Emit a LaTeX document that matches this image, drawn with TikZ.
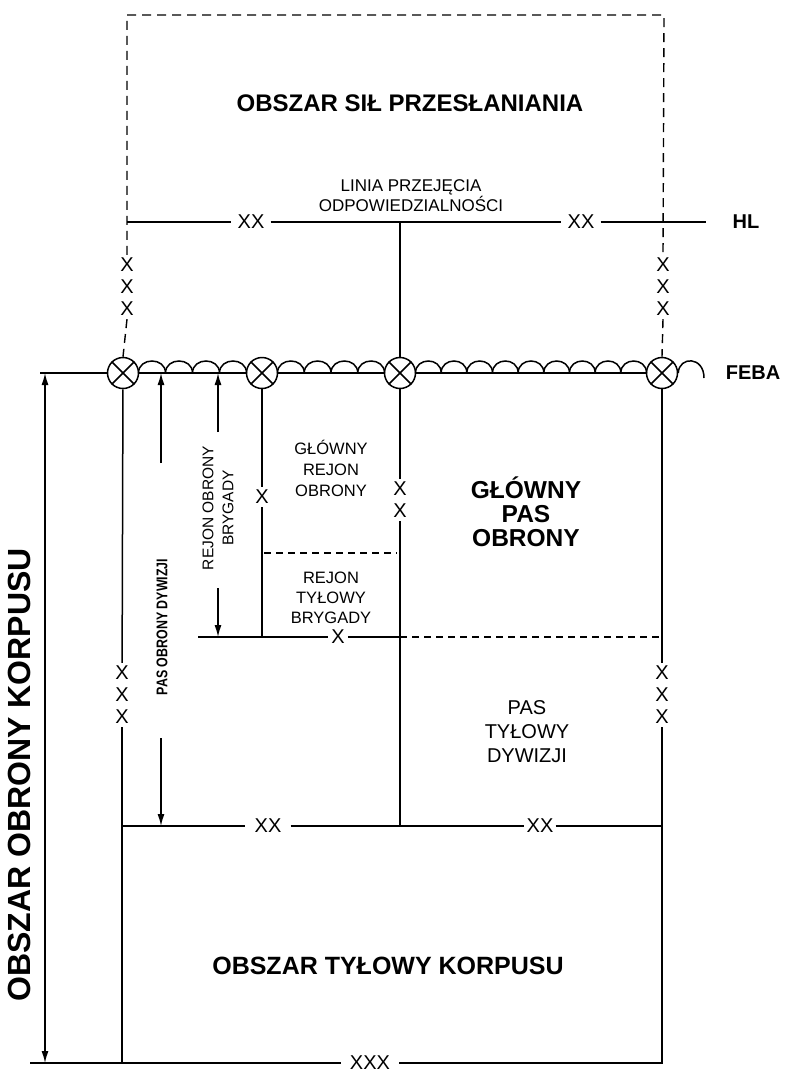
\documentclass[tikz,border=0pt]{standalone}
\usepackage{fontspec}
\usepackage{graphicx}
\setmainfont{Liberation Sans}
\usetikzlibrary{arrows.meta}
\begin{document}
\begin{tikzpicture}[x=1pt,y=-1pt,
  thinln/.style={line width=1.5pt},
  thickln/.style={line width=2.8pt},
  dashln/.style={line width=1.4pt, dash pattern=on 9pt off 6pt},
  dashsm/.style={line width=1.5pt, dash pattern=on 7pt off 5pt},
  cx/.style={circle, draw, line width=1.5pt, minimum size=31pt, inner sep=0pt, fill=white},
  xlab/.style={font=\fontsize{20}{22}\selectfont, align=center, inner xsep=5pt, inner ysep=3pt},
  dimarr/.style={line width=1.4pt, -{Latex[length=12pt,width=7pt]}},
  bigtitle/.style={font=\fontsize{24}{26}\selectfont\bfseries},
  smalltxt/.style={font=\fontsize{16.5}{21}\selectfont, align=center},
]
\useasboundingbox (0,0) rectangle (787,1074);

% ---------- texts ----------
\node[bigtitle] (t1) at (410,103) {OBSZAR SIŁ PRZESŁANIANIA};
\node[font=\fontsize{17}{20}\selectfont, align=center] (linia) at (411,196) {LINIA PRZEJĘCIA\\ODPOWIEDZIALNOŚCI};
\node[bigtitle, font=\fontsize{25}{26}\selectfont\bfseries] (t2) at (388,966) {OBSZAR TYŁOWY KORPUSU};
\node[smalltxt] (grob) at (331,468) {GŁÓWNY\\REJON\\OBRONY};
\node[smalltxt, font=\fontsize{16.5}{20}\selectfont] (rtb) at (331,598) {REJON\\TYŁOWY\\BRYGADY};
\node[font=\fontsize{24.5}{24}\selectfont\bfseries, align=center] (gpo) at (526,512) {GŁÓWNY\\PAS\\OBRONY};
\node[font=\fontsize{20}{24}\selectfont, align=center] (ptd) at (527,732) {PAS\\TYŁOWY\\DYWIZJI};
\node[font=\fontsize{20}{22}\selectfont\bfseries] (feba) at (753,373) {FEBA};
\node[font=\fontsize{20}{22}\selectfont\bfseries] (hl) at (746,222) {HL};
\node[font=\fontsize{32}{34}\selectfont\bfseries, rotate=90] (ook) at (19,775) {OBSZAR OBRONY KORPUSU};
\node[font=\fontsize{15.5}{17}\selectfont\bfseries, rotate=90] (pod) at (162,627) {\scalebox{0.8}[1]{PAS OBRONY DYWIZJI}};
\node[font=\fontsize{15.5}{20}\selectfont, align=center, rotate=90] (rob) at (218,508) {REJON OBRONY\\BRYGADY};

% ---------- FEBA circles ----------
\node[cx] (c1) at (123,373) {};
\node[cx] (c2) at (262,373) {};
\node[cx] (c3) at (400,373) {};
\node[cx] (c4) at (662,373) {};
\foreach \c in {c1,c2,c3,c4} {
  \draw[line width=1.5pt] (\c.north west) -- (\c.south east);
  \draw[line width=1.5pt] (\c.north east) -- (\c.south west);
}
% base lines
\coordinate (fl) at (40,373);
\draw[thinln] (fl) -- (c1);
\draw[thinln] (c1) -- (c2);
\draw[thickln] (c2) -- (c3);
\draw[thickln] (c3) -- (c4);
% scallops
\foreach \a/\b/\n in {138.5/246.5/4, 277.5/384.5/4, 415.5/646.5/9} {
  \pgfmathsetmacro\w{(\b-\a)/\n}
  \foreach \k in {1,...,\n} {
    \pgfmathsetmacro\s{\a+(\k-1)*\w}
    \pgfmathsetmacro\e{\s+\w}
    \draw[line width=1.5pt] (\s,373) .. controls (\s,357) and (\e,357) .. (\e,373);
  }
}
\coordinate (tail) at (704,378);
\draw[line width=1.5pt] (c4.east) .. controls (679,356) and (704,356) .. (tail);

% ---------- HL line and covering force area ----------
\coordinate (hlL) at (127,222);
\coordinate (hlR) at (706,222);
\coordinate (hlm) at (400,222);
\node[xlab, inner xsep=6pt] (hx1) at (251,222) {XX};
\node[xlab, inner xsep=6pt] (hx2) at (581,222) {XX};
\draw[thinln] (hlL) -- (hx1);
\draw[thinln] (hx1) -- (hx2);
\draw[thinln] (hx2) -- (hlR);
\draw[thinln] (hlm) -- (c3);

\coordinate (tl) at (127,15);
\coordinate (tr) at (664,15);
\node[xlab] (txl) at (127,287) {X\\X\\X};
\node[xlab] (txr) at (663,287) {X\\X\\X};
\draw[dashln] (txl.north) -- (tl) -- (tr) -- (txr.north);
\draw[dashln] (txl.south) -- (c1.north);
\draw[dashln] (txr.south) -- (c4.north);

% ---------- corps / division boundaries ----------
\node[xlab] (lx) at (122,695) {X\\X\\X};
\node[xlab] (rx) at (662,695) {X\\X\\X};
\node[xlab] (m1) at (262,497) {X};
\node[xlab] (m2) at (400,500) {X\\X};
\coordinate (bl) at (122,1063);
\coordinate (bfar) at (30,1063);
\coordinate (br) at (662,1063);
\node[xlab, inner xsep=9pt] (bxxx) at (370,1063) {XXX};
\coordinate (l826) at (122,826);
\coordinate (m826) at (400,826);
\coordinate (r826) at (662,826);
\node[xlab, inner xsep=9pt] (x826a) at (268,826) {XX};
\node[xlab, inner xsep=2pt] (x826b) at (540,826) {XX};

\draw[thinln] (c1) -- (lx);
\draw[thinln] (lx) -- (bl);
\draw[thinln] (bfar) -- (bxxx);
\draw[thinln] (bxxx) -- (br) -- (r826);
\draw[thinln] (l826) -- (x826a);
\draw[thinln] (x826a) -- (m826);

\draw[thickln] (c3) -- (m2);
\draw[thickln] (m2) -- (m826) -- (x826b);
\draw[thickln] (x826b) -- (r826);
\draw[thickln] (c4) -- (rx);
\draw[thickln] (rx) -- (r826);

% brigade area
\coordinate (b637) at (262,637);
\coordinate (e637) at (198,637);
\coordinate (m637) at (400,637);
\coordinate (r637) at (660,637);
\node[xlab, inner xsep=3pt, inner ysep=1pt] (x637) at (338,637) {X};
\draw[thickln] (c2) -- (m1);
\draw[thickln] (m1) -- (b637) -- (x637);
\draw[thinln] (e637) -- (b637);
\draw[thinln] (x637) -- (m637);
\draw[dashsm] (m637) -- (r637);
\coordinate (d553a) at (264,553);
\coordinate (d553b) at (397,553);
\draw[dashsm] (d553a) -- (d553b);

% ---------- dimension arrows ----------
\coordinate (k1) at (45,373);
\coordinate (k2) at (45,1063);
\draw[line width=1.4pt, {Latex[length=12pt,width=7pt]}-{Latex[length=12pt,width=7pt]}] (k1) -- (k2);

\coordinate (p1) at (161,373);
\coordinate (p2) at (161,463);
\coordinate (p3) at (161,738);
\coordinate (p4) at (161,826);
\draw[dimarr] (p2) -- (p1);
\draw[dimarr] (p3) -- (p4);

\coordinate (r1) at (218,373);
\coordinate (r2) at (218,432);
\coordinate (r3) at (218,588);
\coordinate (r4) at (218,637);
\draw[dimarr] (r2) -- (r1);
\draw[dimarr] (r3) -- (r4);
\end{tikzpicture}
\end{document}
